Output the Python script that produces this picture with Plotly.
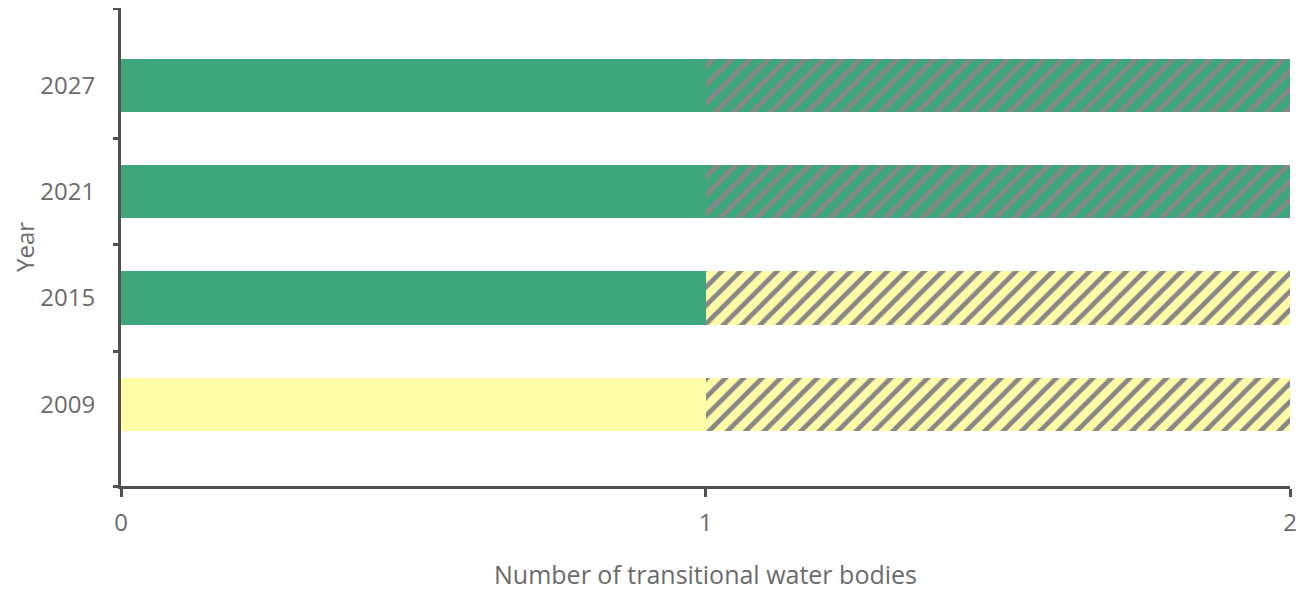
import plotly.graph_objects as go

years = ["2009", "2015", "2021", "2027"]
solid_values = [1, 1, 1, 1]
hatched_values = [1, 1, 1, 1]

GREEN = "#3da67a"
YELLOW = "#fffca8"
GREY = "#878787"
solid_colors = [YELLOW, GREEN, GREEN, GREEN]
hatched_bg = [YELLOW, YELLOW, GREEN, GREEN]

AX = "#505050"
TXT = "#6b6b6b"
FONT = "Open Sans"

fig = go.Figure()
fig.add_trace(go.Bar(
    y=years, x=solid_values, orientation="h", width=0.5,
    marker=dict(color=solid_colors, line=dict(width=0)),
    showlegend=False, hoverinfo="x+y",
))
# hatched part: one trace per background colour (scalar colour keeps the grey stripes)
for bg in [YELLOW, GREEN]:
    ys = [y for y, c in zip(years, hatched_bg) if c == bg]
    xs = [v for v, c in zip(hatched_values, hatched_bg) if c == bg]
    fig.add_trace(go.Bar(
        y=ys, x=xs, orientation="h", width=0.5,
        marker=dict(color=bg, line=dict(width=0),
                    pattern=dict(shape="/", fgcolor=GREY, fgopacity=1,
                                 fillmode="overlay", size=13, solidity=0.36)),
        showlegend=False, hoverinfo="x+y",
    ))

yr = [-0.77, 3.73]
fig.update_layout(
    barmode="stack",
    width=1314, height=600,
    margin=dict(l=113, r=32, t=0, b=122),
    plot_bgcolor="white", paper_bgcolor="white",
    font=dict(family=FONT, color=TXT, size=24),
    xaxis=dict(
        range=[0, 2], tickvals=[0, 1, 2], ticktext=["0", "1", "2"],
        showgrid=False, zeroline=False,
        showline=True, linecolor=AX, linewidth=3,
        ticks="outside", ticklen=8, tickwidth=3, tickcolor=AX,
        ticklabelstandoff=5,
        tickfont=dict(size=24, color=TXT, family=FONT),
        title=dict(text="Number of transitional water bodies",
                   font=dict(size=25, color=TXT, family=FONT), standoff=30),
    ),
    yaxis=dict(
        type="category", categoryorder="array", categoryarray=years,
        range=yr, showgrid=False, zeroline=False,
        showline=True, linecolor=AX, linewidth=3,
        ticks="", ticklabelstandoff=18,
        tickfont=dict(size=24, color=TXT, family=FONT),
        title=dict(text="Year", font=dict(size=24, color=TXT, family=FONT), standoff=14),
    ),
    yaxis2=dict(
        overlaying="y", range=yr, tickmode="array",
        tickvals=[yr[0], 0.5, 1.5, 2.5, yr[1]], showticklabels=False,
        ticks="outside", ticklen=7, tickwidth=3, tickcolor=AX,
        showgrid=False, zeroline=False, showline=False,
    ),
)
fig.add_trace(go.Scatter(x=[None], y=[None], yaxis="y2", showlegend=False))

fig.write_html("out.html")
